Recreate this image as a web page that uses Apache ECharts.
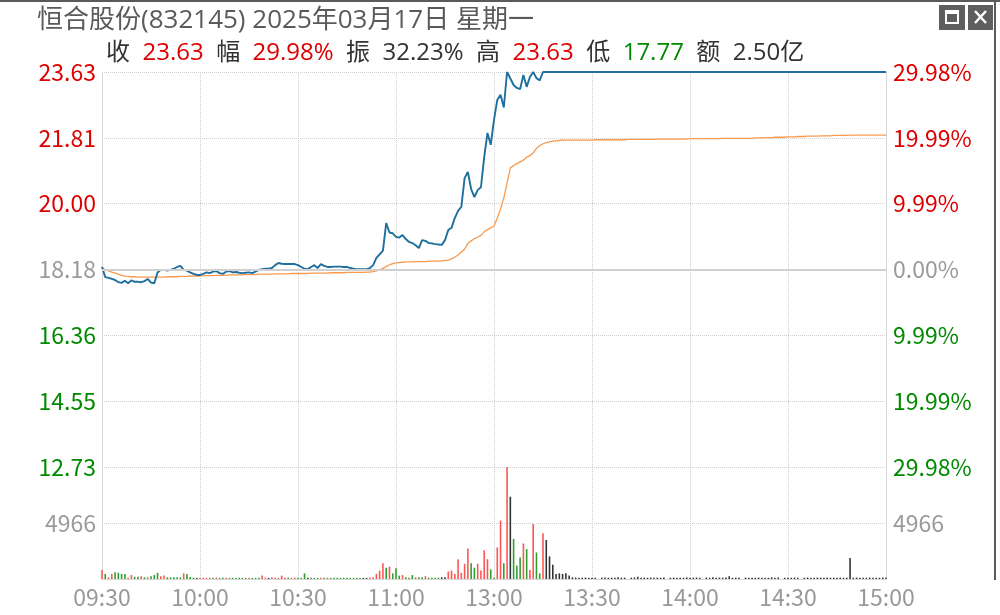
<!DOCTYPE html>
<html><head><meta charset="utf-8">
<script src="https://cdn.jsdelivr.net/npm/echarts@6/dist/echarts.min.js"></script>
<style>html,body{margin:0;padding:0;background:#fff}#c{width:1000px;height:615px}</style>
</head><body><div id="c"></div>
<script>
// ---- data ----
const preClose = 18.18;
const xTickLabels = ['09:30','10:00','10:30','11:00','13:00','13:30','14:00','14:30','15:00'];
const priceTickLabels = ['12.73','14.55','16.36','18.18','20.00','21.81','23.63'];
const pctTickLabels = ['29.98%','19.99%','9.99%','0.00%','9.99%','19.99%','29.98%'];
const volTickLabel = 4966;
const priceMin = 12.73, priceMax = 23.63, volMax = 9932;
const headerTitle = '恒合股份(832145) 2025年03月17日 星期一';
const quoteItems = [['收','23.63','r'],['幅','29.98%','r'],['振','32.23%','a'],['高','23.63','r'],['低','17.77','g'],['额','2.50亿','a']];

const price = [
18.25,17.97,17.95,17.92,17.89,17.83,17.81,17.87,17.80,17.88,
17.84,17.84,17.83,17.86,17.92,17.82,17.80,18.10,18.17,18.17,
18.15,18.17,18.20,18.25,18.28,18.17,18.15,18.10,18.06,18.03,
18.03,18.06,18.10,18.08,18.12,18.14,18.08,18.06,18.12,18.14,
18.10,18.11,18.09,18.08,18.09,18.10,18.08,18.12,18.17,18.19,
18.20,18.20,18.22,18.30,18.36,18.34,18.33,18.33,18.33,18.33,
18.30,18.25,18.20,18.19,18.25,18.30,18.22,18.33,18.28,18.25,
18.25,18.26,18.26,18.26,18.25,18.25,18.22,18.20,18.19,18.19,
18.19,18.19,18.22,18.30,18.50,18.60,18.70,19.46,19.20,19.18,
19.08,19.06,19.13,19.02,18.94,18.91,18.85,18.77,18.99,18.97,
18.91,18.90,18.88,18.87,18.86,18.99,19.27,19.33,19.60,19.80,
19.91,20.70,20.87,20.40,20.18,20.37,20.45,21.28,21.95,21.62,
22.31,22.86,23.00,22.65,23.63,23.45,23.27,23.19,23.16,23.55,
23.22,23.49,23.63,23.46,23.40,23.63,23.63,23.63,23.63,23.63,
23.63,23.63,23.63,23.63,23.63,23.63,23.63,23.63,23.63,23.63,
23.63,23.63,23.63,23.63,23.63,23.63,23.63,23.63,23.63,23.63,
23.63,23.63,23.63,23.63,23.63,23.63,23.63,23.63,23.63,23.63,
23.63,23.63,23.63,23.63,23.63,23.63,23.63,23.63,23.63,23.63,
23.63,23.63,23.63,23.63,23.63,23.63,23.63,23.63,23.63,23.63,
23.63,23.63,23.63,23.63,23.63,23.63,23.63,23.63,23.63,23.63,
23.63,23.63,23.63,23.63,23.63,23.63,23.63,23.63,23.63,23.63,
23.63,23.63,23.63,23.63,23.63,23.63,23.63,23.63,23.63,23.63,
23.63,23.63,23.63,23.63,23.63,23.63,23.63,23.63,23.63,23.63,
23.63,23.63,23.63,23.63,23.63,23.63,23.63,23.63,23.63,23.63,
23.63
];

const avgPrice = [
18.25,18.17,18.14,18.11,18.08,18.05,18.02,18.00,17.99,17.98,
17.98,17.97,17.97,17.97,17.97,17.97,17.97,17.97,17.97,17.97,
17.98,17.98,17.98,17.98,17.99,17.99,17.99,18.00,18.00,18.00,
18.00,18.01,18.01,18.01,18.01,18.02,18.02,18.02,18.02,18.03,
18.03,18.03,18.03,18.03,18.04,18.04,18.04,18.04,18.05,18.05,
18.05,18.05,18.05,18.06,18.06,18.06,18.06,18.06,18.07,18.07,
18.07,18.07,18.07,18.07,18.08,18.08,18.08,18.08,18.08,18.08,
18.09,18.09,18.09,18.09,18.09,18.10,18.10,18.10,18.10,18.10,
18.10,18.11,18.11,18.12,18.14,18.17,18.21,18.26,18.31,18.34,
18.36,18.37,18.38,18.39,18.39,18.39,18.40,18.40,18.40,18.40,
18.41,18.41,18.41,18.41,18.42,18.43,18.44,18.47,18.52,18.58,
18.66,18.74,18.90,18.97,19.03,19.07,19.12,19.22,19.28,19.33,
19.38,19.60,19.85,20.15,20.57,20.98,21.05,21.10,21.15,21.20,
21.28,21.32,21.40,21.52,21.60,21.65,21.68,21.70,21.72,21.73,
21.74,21.75,21.75,21.75,21.75,21.75,21.75,21.75,21.75,21.75,
21.75,21.76,21.76,21.76,21.76,21.76,21.76,21.76,21.76,21.76,
21.76,21.77,21.77,21.77,21.77,21.77,21.77,21.77,21.77,21.77,
21.78,21.78,21.78,21.78,21.78,21.78,21.78,21.78,21.78,21.78,
21.79,21.79,21.79,21.79,21.79,21.79,21.79,21.79,21.79,21.79,
21.80,21.80,21.80,21.80,21.80,21.80,21.80,21.80,21.80,21.80,
21.81,21.81,21.81,21.82,21.82,21.82,21.83,21.83,21.83,21.83,
21.84,21.84,21.84,21.85,21.85,21.85,21.86,21.86,21.86,21.86,
21.87,21.87,21.87,21.87,21.88,21.88,21.88,21.88,21.88,21.89,
21.89,21.89,21.89,21.89,21.89,21.89,21.89,21.89,21.89,21.89,
21.89
];

const volume = [
800,450,150,450,600,550,450,450,120,350,
200,200,250,150,150,250,350,550,250,300,
150,150,150,150,150,500,450,180,120,100,
100,100,100,120,100,120,100,100,120,100,
100,100,100,100,100,100,100,100,100,300,
120,100,150,100,100,300,120,100,100,120,
100,100,500,100,120,100,100,120,100,120,
100,100,100,100,100,100,100,100,100,100,
100,100,100,150,450,750,1400,1000,1100,500,
950,300,350,150,100,350,150,150,150,250,
120,120,120,120,150,150,660,750,450,1750,
540,1350,2700,1400,1000,1350,750,2560,1750,850,
120,2800,5180,1400,9900,7300,3550,1200,1900,3150,
2650,800,4870,2350,500,4060,3460,2000,1260,450,
500,450,500,300,150,130,120,110,130,110,
120,110,0,110,130,110,120,110,150,110,
120,0,110,130,200,110,130,110,140,110,
120,110,130,0,110,130,110,120,110,140,
120,110,130,110,0,130,110,150,110,120,
110,130,250,110,120,110,0,130,110,120,
110,130,110,120,110,150,110,130,0,110,
120,110,130,110,0,110,130,120,110,130,
120,110,130,110,120,110,130,110,120,1870,
110,130,110,120,110,130,110,120,110,130,
110
];

const volDir = [
'r','g','r','r','g','g','g','g','r','r',
'g','g','r','g','r','g','g','g','r','r',
'g','g','g','g','g','r','g','g','g','k',
'r','r','r','r','g','r','g','g','r','g',
'g','g','g','g','g','r','g','g','g','r',
'r','k','r','r','r','r','r','g','r','r',
'g','g','g','k','g','g','g','r','g','r',
'g','g','g','g','g','g','g','g','g','g',
'k','k','r','r','r','r','r','g','r','g',
'g','g','r','g','g','g','r','g','g','r',
'g','g','g','g','k','k','r','r','r','r',
'r','r','r','g','g','r','r','r','r','g',
'g','r','r','g','r','k','g','g','g','r',
'g','r','r','g','g','r','k','k','k','k',
'k','k','k','k','k','k','k','k','k','k',
'k','k','k','k','k','k','k','k','k','k',
'k','k','k','k','k','k','k','k','k','k',
'k','k','k','k','k','k','k','k','k','k',
'k','k','k','k','k','k','k','k','k','k',
'k','k','k','k','k','k','k','k','k','k',
'k','k','k','k','k','k','k','k','k','k',
'k','k','k','k','k','k','k','k','k','k',
'k','k','k','k','k','k','k','k','k','k',
'k','k','k','k','k','k','k','k','k','k',
'k'
];

// ---- time categories (one per minute, 11:30 and 13:00 share a slot) ----
const categories = [];
(function(){
  function fmt(m){const h=Math.floor(m/60),mm=m%60;return (h<10?'0':'')+h+':'+(mm<10?'0':'')+mm;}
  for(let i=0;i<=120;i++) categories.push(fmt(570+i));
  for(let i=121;i<=240;i++) categories.push(fmt(780+i-120));
})();

const RED='#dd0000', GREEN='#008a00', GRAY='#9a9a9a';
const dirColor = {r:'#ff5555', g:'#2f9e2f', k:'#333333'};
const FONT = 'Noto Sans CJK SC';
const HFONT = "'Open Sans','Noto Sans CJK SC'";
const pStep = (priceMax-priceMin)/6;
function pIdx(v){return Math.round((parseFloat(v)-priceMin)/pStep);}
function pColor(v){const k=pIdx(v);return k>3?RED:(k<3?GREEN:GRAY);}

const volData = volume.map((v,i)=>({value:v,itemStyle:{color:dirColor[volDir[i]]}}));
const quoteText = quoteItems.map(q=>'{a|'+q[0]+'}  {'+q[2]+'|'+q[1]+'}').join('  ');

const gridL=102, gridR=114;
const splitDot = {show:true,lineStyle:{color:'#cfcfcf',type:'dotted',width:1}};
const xSplit = {show:true,interval:function(i){return i%30===0;},lineStyle:{color:'#cfcfcf',type:'dotted',width:1}};

const chart = echarts.init(document.getElementById('c'),null,{renderer:'canvas'});
chart.setOption({
  animation:false,
  backgroundColor:'#fff',
  title:[
    {text:headerTitle,left:32,top:3,
     textStyle:{fontFamily:HFONT,fontSize:26,fontWeight:'normal',color:'#5a5a5a'}},
    {text:quoteText,left:101,top:36,
     textStyle:{fontFamily:HFONT,fontSize:24,fontWeight:'normal',
       rich:{a:{fontFamily:HFONT,fontSize:24,color:'#333'},r:{fontFamily:HFONT,fontSize:24,color:RED},g:{fontFamily:HFONT,fontSize:24,color:GREEN}}}}
  ],
  grid:[
    {left:gridL,right:gridR,top:72,height:395},
    {left:gridL,right:gridR,top:467,height:112}
  ],
  xAxis:[
    {type:'category',gridIndex:0,data:categories,boundaryGap:false,
     axisLine:{show:false},axisTick:{show:false},axisLabel:{show:false},splitLine:xSplit},
    {type:'category',gridIndex:1,data:categories,boundaryGap:false,
     axisLine:{show:true,lineStyle:{color:'#d6d6d6'}},axisTick:{show:false},splitLine:xSplit,
     axisLabel:{show:true,interval:function(i){return i%30===0;},margin:7,
       formatter:function(v,i){return xTickLabels[Math.round(i/30)]||'';},
       fontFamily:FONT,fontSize:23,color:'#999'}}
  ],
  yAxis:[
    {type:'value',gridIndex:0,position:'left',min:priceMin,max:priceMax,interval:pStep,
     axisLine:{show:true,lineStyle:{color:'#d6d6d6'}},axisTick:{show:false},splitLine:splitDot,
     axisLabel:{margin:6,fontFamily:FONT,fontSize:23,
       formatter:function(v){return priceTickLabels[pIdx(v)];},
       color:function(v){return pColor(v);}}},
    {type:'value',gridIndex:0,position:'right',min:priceMin,max:priceMax,interval:pStep,
     axisLine:{show:true,lineStyle:{color:'#d6d6d6'}},axisTick:{show:false},splitLine:{show:false},
     axisLabel:{margin:7,fontFamily:FONT,fontSize:23,
       formatter:function(v){return pctTickLabels[6-pIdx(v)] ;},
       color:function(v){return pColor(v);}}},
    {type:'value',gridIndex:1,position:'left',min:0,max:volMax,interval:volTickLabel,
     axisLine:{show:true,lineStyle:{color:'#d6d6d6'}},axisTick:{show:false},splitLine:splitDot,
     axisLabel:{margin:6,fontFamily:FONT,fontSize:23,color:GRAY,
       formatter:function(v){return Math.round(v)===volTickLabel?String(volTickLabel):'';}}},
    {type:'value',gridIndex:1,position:'right',min:0,max:volMax,interval:volTickLabel,
     axisLine:{show:true,lineStyle:{color:'#d6d6d6'}},axisTick:{show:false},splitLine:{show:false},
     axisLabel:{margin:7,fontFamily:FONT,fontSize:23,color:GRAY,
       formatter:function(v){return Math.round(v)===volTickLabel?String(volTickLabel):'';}}}
  ],
  series:[
    {type:'line',xAxisIndex:0,yAxisIndex:0,data:avgPrice,symbol:'none',z:3,
     lineStyle:{color:'#f99a4e',width:1.3}},
    {type:'line',xAxisIndex:0,yAxisIndex:0,data:price,symbol:'none',z:4,
     lineStyle:{color:'#1f6f9e',width:1.9},
     markLine:{silent:true,symbol:'none',label:{show:false},
       lineStyle:{color:'#d0d0d0',type:'solid',width:2},data:[{yAxis:preClose}]}},
    {type:'bar',xAxisIndex:1,yAxisIndex:2,data:volData,barWidth:1.6}
  ],
  graphic:[
    {type:'rect',shape:{x:0,y:0,width:1000,height:2},style:{fill:'#5a5a5a'},silent:true},
    {type:'rect',shape:{x:994,y:0,width:2,height:580},style:{fill:'#5a5a5a'},silent:true},
    {type:'rect',shape:{x:939,y:5,width:26,height:25},style:{fill:'#5e5e5e'},silent:true},
    {type:'rect',shape:{x:946,y:11,width:12,height:12},style:{fill:'none',stroke:'#fff',lineWidth:2},silent:true},
    {type:'rect',shape:{x:946,y:11,width:12,height:3},style:{fill:'#fff'},silent:true},
    {type:'rect',shape:{x:968,y:5,width:25,height:25},style:{fill:'#5e5e5e'},silent:true},
    {type:'line',shape:{x1:975,y1:11,x2:986,y2:23},style:{stroke:'#fff',lineWidth:2.5},silent:true},
    {type:'line',shape:{x1:986,y1:11,x2:975,y2:23},style:{stroke:'#fff',lineWidth:2.5},silent:true}
  ]
});
</script></body></html>
